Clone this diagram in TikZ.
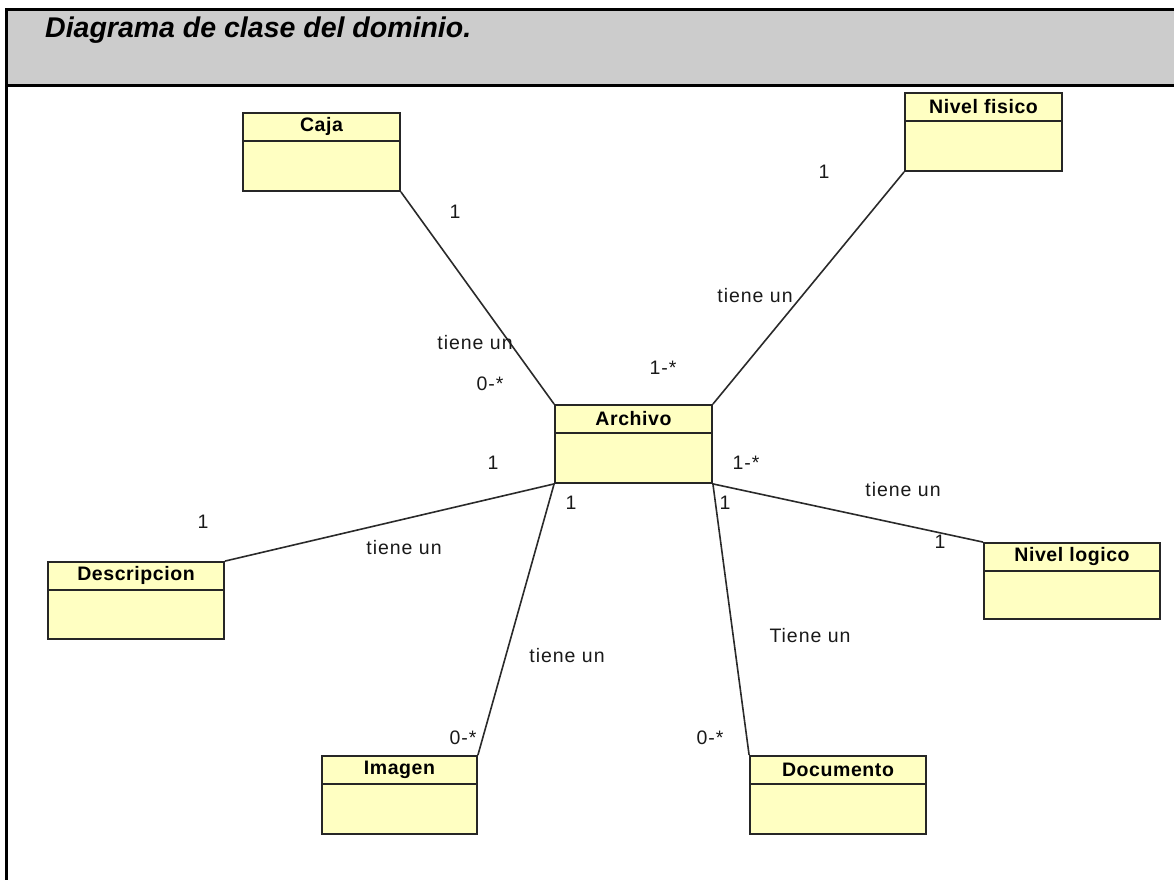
\documentclass[tikz,border=0pt]{standalone}
\usepackage{fontspec}
\setmainfont{Liberation Sans}
\newfontfamily\lblfont[LetterSpace=5]{Liberation Sans}
\newfontfamily\clsfont[LetterSpace=3]{Liberation Sans}
\definecolor{bandgray}{HTML}{CCCCCC}
\definecolor{classfill}{HTML}{FFFFC2}
\definecolor{edgegray}{HTML}{2A2A2A}

% one UML class: name, centre x, centre y, width, height, title
\newcommand\umlclass[6]{%
  \node[classbox, minimum width=#4pt, minimum height=#5pt] (#1) at (#2,#3) {};
  \node[classname] (#1-title) at ([yshift=-14.5pt]#1.north) {#6};
  \draw[classline] ([yshift=-29pt]#1.north west) -- ([yshift=-29pt]#1.north east);
}

\tikzset{
  classbox/.style={draw=black!85, line width=1.8pt, fill=classfill, inner sep=0pt, rectangle},
  classname/.style={font=\clsfont\bfseries\fontsize{19.5}{22}\selectfont, inner sep=0pt},
  classline/.style={draw=black!85, line width=1.8pt},
  assoc/.style={draw=edgegray, line width=1.6pt},
  mult/.style={font=\lblfont\fontsize{19.5}{22}\selectfont, inner sep=0pt, text=black!90},
  frameline/.style={line width=3pt, draw=black}
}

\begin{document}
\begin{tikzpicture}[x=1pt, y=-1pt]
\useasboundingbox (0,0) rectangle (1174,880);

% page frame with grey title band
\fill[bandgray] (6,10) rectangle (1174,86);
\draw[frameline] (6,10) -- (1174,10);
\draw[frameline] (6,86) -- (1174,86);
\draw[frameline] (6,8.5) -- (6,880);
\node[anchor=base west, inner sep=0pt, font=\bfseries\itshape\fontsize{28.5}{32}\selectfont] (title) at (45,38) {Diagrama de clase del dominio.};

% classes
\umlclass{caja}{321.5}{152}{157}{78}{Caja}
\umlclass{archivo}{633.5}{444}{157}{78}{Archivo}
\umlclass{nivelf}{983.5}{132}{157}{78}{Nivel fisico}
\umlclass{nivell}{1072}{581}{176}{76}{Nivel logico}
\umlclass{desc}{136}{600.5}{176}{77}{Descripcion}
\umlclass{imagen}{399.5}{795}{155}{78}{Imagen}
\umlclass{docum}{838}{795}{176}{78}{Documento}

% associations
\draw[assoc] (caja.south east) -- (archivo.north west);
\draw[assoc] (nivelf.south west) -- (archivo.north east);
\draw[assoc] (desc.north east) -- (archivo.south west);
\draw[assoc] (imagen.north east) -- (archivo.south west);
\draw[assoc] (docum.north west) -- (archivo.south east);
\draw[assoc] (nivell.north west) -- (archivo.south east);

% role names and multiplicities
\node[mult] (m-caja)   at (455,212) {1};
\node[mult] (r-caja)   at (475,343) {tiene un};
\node[mult] (m-caja2)  at (490,384) {0-*};

\node[mult] (m-nf)     at (824,172) {1};
\node[mult] (r-nf)     at (755,296) {tiene un};
\node[mult] (m-nf2)    at (663,368) {1-*};

\node[mult] (m-desc2)  at (493,463) {1};
\node[mult] (m-desc)   at (203,522) {1};
\node[mult] (r-desc)   at (404,548) {tiene un};

\node[mult] (m-img2)   at (571,503) {1};
\node[mult] (r-img)    at (567,656) {tiene un};
\node[mult] (m-img)    at (463,738) {0-*};

\node[mult] (m-doc2)   at (725,503) {1};
\node[mult] (r-doc)    at (810,636) {Tiene un};
\node[mult] (m-doc)    at (710,738) {0-*};

\node[mult] (m-nl2)    at (746,463) {1-*};
\node[mult] (r-nl)     at (903,490) {tiene un};
\node[mult] (m-nl)     at (940,542) {1};
\end{tikzpicture}
\end{document}
